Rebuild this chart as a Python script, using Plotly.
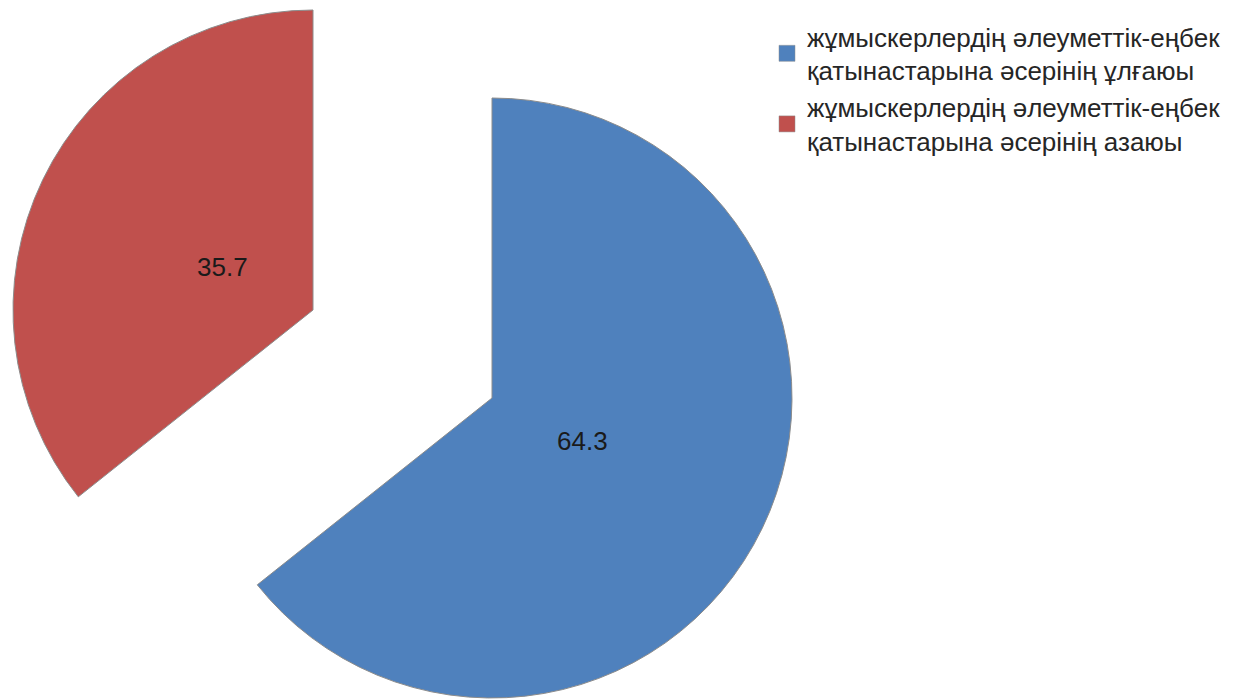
import math
import plotly.graph_objects as go

labels = [
    "жұмыскерлердің әлеуметтік-еңбек<br>қатынастарына әсерінің ұлғаюы",
    "жұмыскерлердің әлеуметтік-еңбек<br>қатынастарына әсерінің азаюы",
]
values = [64.3, 35.7]
colors = ["#4F81BD", "#C0504D"]

W, H = 1241, 700
FONT = "Liberation Sans, Arial, sans-serif"
TRANSPARENT = "rgba(0,0,0,0)"
EDGE = "#8c8c8c"

# pie domains (pixels): main pie and the exploded copy
R = 300
main_c = (492, 398)
expl_c = (313, 310)


def dom(c):
    return dict(x=[(c[0] - R) / W, (c[0] + R) / W],
                y=[1 - (c[1] + R) / H, 1 - (c[1] - R) / H])


fig = go.Figure()

fig.add_trace(go.Pie(
    labels=labels, values=values, sort=False, direction="clockwise", rotation=0,
    marker=dict(colors=[colors[0], TRANSPARENT],
                line=dict(color=[EDGE, TRANSPARENT], width=[1, 0])),
    textinfo="none", domain=dom(main_c), showlegend=False, hoverinfo="skip",
))

fig.add_trace(go.Pie(
    labels=labels, values=values, sort=False, direction="clockwise", rotation=0,
    marker=dict(colors=[TRANSPARENT, colors[1]],
                line=dict(color=[TRANSPARENT, EDGE], width=[0, 1])),
    textinfo="none", domain=dom(expl_c), showlegend=False, hoverinfo="skip",
))

# data labels along each slice bisector at r/3
total = sum(values)
cum = 0.0
annotations = []
for v, c in zip(values, [main_c, expl_c]):
    mid = (cum + v / 2) / total * 2 * math.pi
    cum += v
    px = c[0] + R / 3 * math.sin(mid)
    py = c[1] - R / 3 * math.cos(mid)
    annotations.append(dict(
        x=px / W, y=1 - py / H, xref="paper", yref="paper", showarrow=False,
        text=f"{v}", font=dict(family=FONT, size=26, color="#1a1a1a"),
        xanchor="center", yanchor="middle",
    ))

# legend entries
for lab, col in zip(labels, colors):
    fig.add_trace(go.Scatter(
        x=[None], y=[None], mode="markers", name=lab,
        marker=dict(symbol="square", size=16, color=col, line=dict(color="#8c8c8c", width=0.5)),
        showlegend=True,
    ))

fig.update_layout(
    width=W, height=H,
    margin=dict(l=0, r=0, t=0, b=0),
    paper_bgcolor="white", plot_bgcolor="white",
    xaxis=dict(visible=False), yaxis=dict(visible=False),
    annotations=annotations,
    legend=dict(x=767 / W, y=1 - 13 / H, xanchor="left", yanchor="top",
                font=dict(family=FONT, size=26, color="#262626"),
                valign="middle", bgcolor="rgba(0,0,0,0)", tracegroupgap=0),
)

fig.write_html("out.html")
